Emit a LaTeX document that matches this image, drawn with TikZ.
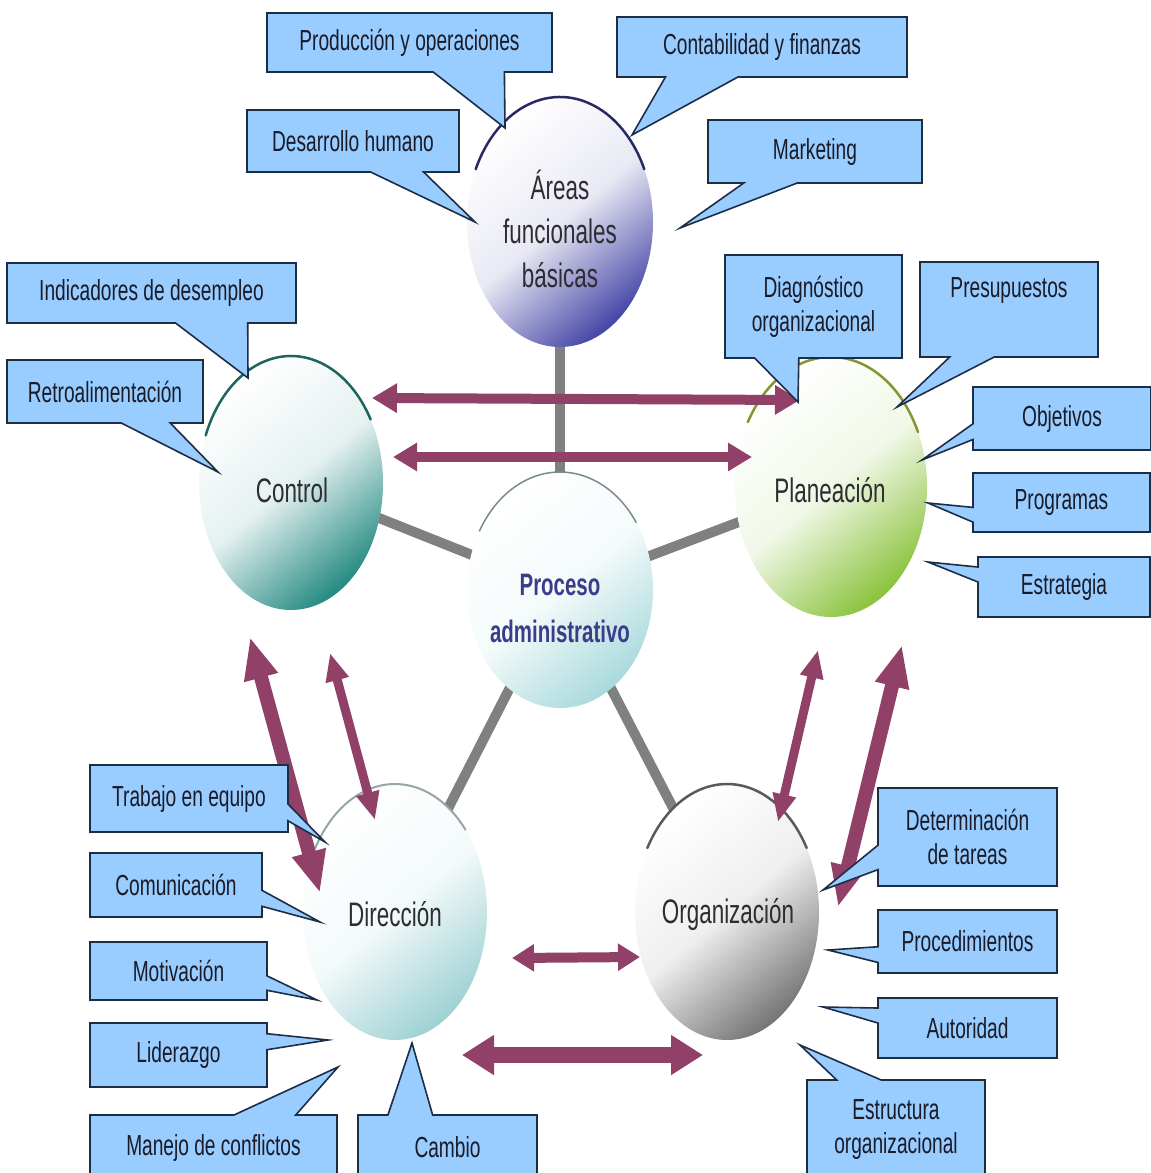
\documentclass[tikz,border=0pt]{standalone}
\usepackage{fontspec}
\setmainfont[FakeStretch=0.66]{Liberation Sans}
\usetikzlibrary{arrows.meta,calc,backgrounds,shapes.geometric}

\definecolor{boxfill}{RGB}{153,204,255}
\definecolor{boxline}{RGB}{30,45,70}
\definecolor{arrowc}{RGB}{145,64,104}
\definecolor{spokec}{RGB}{128,128,128}
\definecolor{txt}{RGB}{25,28,40}
\definecolor{ballt}{RGB}{45,45,50}
\definecolor{ptxt}{RGB}{60,60,140}
% ball fills
\definecolor{areasc}{RGB}{72,72,168}
\definecolor{ctrlc}{RGB}{40,140,132}
\definecolor{procc}{RGB}{170,218,220}
\definecolor{planc}{RGB}{140,196,64}
\definecolor{dirc}{RGB}{160,210,212}
\definecolor{orgc}{RGB}{120,120,120}
% ball rims
\definecolor{areasl}{RGB}{40,40,100}
\definecolor{ctrll}{RGB}{30,100,95}
\definecolor{procl}{RGB}{120,140,140}
\definecolor{planl}{RGB}{130,150,50}
\definecolor{dirl}{RGB}{150,165,165}
\definecolor{orgl}{RGB}{90,90,90}

\pgfdeclarelayer{calloutlayer}
\pgfdeclarelayer{labellayer}
\pgfsetlayers{background,main,calloutlayer,labellayer}

\tikzset{
  ball/.style={ellipse, inner sep=0pt, outer sep=0pt,
    top color=white, bottom color=#1, middle color=#1!12!white, shading angle=40},
  rim/.style={draw=#1, line width=2.5pt, line cap=round},
  balltext/.style={inner sep=0pt, align=center, text=ballt,
    font=\fontsize{34}{44}\selectfont},
  proctext/.style={inner sep=0pt, align=center, text=ptxt,
    font=\fontsize{31}{47}\selectfont\bfseries},
  spoke/.style={draw=spokec, line width=10pt},
  dblarrow/.style n args={3}{draw=arrowc, line width=#1,
    arrows={Triangle[width=#2,length=#3]-Triangle[width=#2,length=#3]}},
  ctext/.style={inner sep=0pt, outer sep=0pt, align=center, text=txt,
    font=\fontsize{29}{34}\selectfont},
  cbox/.style={fill=boxfill, draw=boxline, line width=1.6pt, line join=miter},
}

% callout outlines: box plus a wedge on one side ending at a tip
\newcommand{\wedgeB}[4]{\begin{pgfonlayer}{calloutlayer}
  \draw[cbox] (#1.north west) -- (#1.north east) -- (#1.south east)
    -- ($(#1.south west)!#3!(#1.south east)$) -- (#4)
    -- ($(#1.south west)!#2!(#1.south east)$) -- (#1.south west) -- cycle;
  \end{pgfonlayer}}
\newcommand{\wedgeT}[4]{\begin{pgfonlayer}{calloutlayer}
  \draw[cbox] (#1.north west) -- ($(#1.north west)!#2!(#1.north east)$)
    -- (#4) -- ($(#1.north west)!#3!(#1.north east)$) -- (#1.north east)
    -- (#1.south east) -- (#1.south west) -- cycle;
  \end{pgfonlayer}}
\newcommand{\wedgeL}[4]{\begin{pgfonlayer}{calloutlayer}
  \draw[cbox] (#1.north west) -- (#1.north east) -- (#1.south east)
    -- (#1.south west) -- ($(#1.north west)!#3!(#1.south west)$) -- (#4)
    -- ($(#1.north west)!#2!(#1.south west)$) -- cycle;
  \end{pgfonlayer}}
\newcommand{\wedgeR}[4]{\begin{pgfonlayer}{calloutlayer}
  \draw[cbox] (#1.north west) -- (#1.north east)
    -- ($(#1.north east)!#2!(#1.south east)$) -- (#4)
    -- ($(#1.north east)!#3!(#1.south east)$) -- (#1.south east)
    -- (#1.south west) -- cycle;
  \end{pgfonlayer}}

\begin{document}
\begin{tikzpicture}[x=1pt, y=-1pt]
\useasboundingbox (0,0) rectangle (1151,1173);

% the six balls
\node[ball=areasc, minimum width=186pt, minimum height=250pt] (areas) at (560,222) {};
\node[ball=ctrlc, minimum width=184pt, minimum height=254pt] (ctrl) at (291,483) {};
\node[ball=procc, minimum width=186pt, minimum height=236pt] (proc) at (560,590) {};
\node[ball=planc, minimum width=192pt, minimum height=260pt] (plan) at (831,487) {};
\node[ball=dirc, minimum width=184pt, minimum height=256pt] (dir) at (395,912) {};
\node[ball=orgc, minimum width=184pt, minimum height=256pt] (org) at (727,912) {};

% rims along the top of each ball
\draw[rim=areasl] (areas.center) ++(-155:93 and 125) arc[start angle=-155, end angle=-25, x radius=93, y radius=125];
\draw[rim=ctrll] (ctrl.center) ++(-158:92 and 127) arc[start angle=-158, end angle=-30, x radius=92, y radius=127];
\draw[rim=procl, line width=1.5pt] (proc.center) ++(-150:93 and 118) arc[start angle=-150, end angle=-35, x radius=93, y radius=118];
\draw[rim=planl] (plan.center) ++(-150:96 and 130) arc[start angle=-150, end angle=-25, x radius=96, y radius=130];
\draw[rim=dirl, line width=2pt] (dir.center) ++(-150:92 and 128) arc[start angle=-150, end angle=-40, x radius=92, y radius=128];
\draw[rim=orgl] (org.center) ++(-150:92 and 128) arc[start angle=-150, end angle=-30, x radius=92, y radius=128];

% ball captions
\node[balltext] (areas-t) at (560,229) {Áreas\\funcionales\\básicas};
\node[balltext] (ctrl-t) at (292,490) {Control};
\node[balltext] (plan-t) at (830,490) {Planeación};
\node[balltext] (dir-t) at (395,914) {Dirección};
\node[balltext] (org-t) at (728,914) {Organización};
\node[proctext] (proc-t) at (560,608) {Proceso\\administrativo};

% spokes from the centre ball
\begin{pgfonlayer}{background}
\foreach \n in {areas,ctrl,plan,dir,org}
  \draw[spoke] (proc.center) -- (\n.center);
\end{pgfonlayer}

% two-way arrows between the stages
\draw[dblarrow={10pt}{28pt}{25pt}] ($(ctrl.center)+(81,-85)$) -- ($(plan.center)+(-31,-87)$);
\draw[dblarrow={10pt}{27pt}{24pt}] ($(ctrl.center)+(102,-26)$) -- ($(plan.center)+(-79,-30)$);
\draw[dblarrow={14pt}{32pt}{42pt}] ($(ctrl.center)+(-41,154)$) -- ($(dir.center)+(-75,-19)$);
\draw[dblarrow={9pt}{22pt}{28pt}] ($(ctrl.center)+(39,170)$) -- ($(dir.center)+(-20,-92)$);
\draw[dblarrow={9pt}{22pt}{28pt}] ($(plan.center)+(-13,163)$) -- ($(org.center)+(51,-90)$);
\draw[dblarrow={14pt}{32pt}{42pt}] ($(plan.center)+(71,158)$) -- ($(org.center)+(111,-5)$);
\draw[dblarrow={10pt}{26pt}{22pt}] ($(dir.center)+(117,46)$) -- ($(org.center)+(-87,45)$);
\draw[dblarrow={16pt}{38pt}{32pt}] ($(dir.center)+(67,143)$) -- ($(org.center)+(-24,143)$);

% callout texts
\begin{pgfonlayer}{labellayer}
\node[ctext, minimum width=285pt, minimum height=59pt] (c-prod) at (409.5,42.5) {Producción y operaciones};
\node[ctext, minimum width=290pt, minimum height=60pt] (c-cont) at (762,47) {Contabilidad y finanzas};
\node[ctext, minimum width=212pt, minimum height=62pt] (c-des) at (353,141) {Desarrollo humano};
\node[ctext, minimum width=214pt, minimum height=63pt] (c-mkt) at (815,151.5) {Marketing};
\node[ctext, minimum width=289pt, minimum height=60pt] (c-ind) at (151.5,293) {Indicadores de desempleo};
\node[ctext, minimum width=196pt, minimum height=63pt] (c-ret) at (105,391.5) {Retroalimentación};
\node[ctext, minimum width=177pt, minimum height=103pt] (c-diag) at (813.5,306.5) {Diagnóstico\\organizacional};
\node[ctext, minimum width=178pt, minimum height=95pt] (c-pres) at (1009,309.5) {Presupuestos\\\strut};
\node[ctext, minimum width=178pt, minimum height=63pt] (c-obj) at (1062,418.5) {Objetivos};
\node[ctext, minimum width=177pt, minimum height=59pt] (c-prog) at (1061.5,502.5) {Programas};
\node[ctext, minimum width=172pt, minimum height=60pt] (c-est) at (1064,587) {Estrategia};
\node[ctext, minimum width=198pt, minimum height=67pt] (c-trab) at (189,798.5) {Trabajo en equipo};
\node[ctext, minimum width=172pt, minimum height=64pt] (c-com) at (176,885) {Comunicación};
\node[ctext, minimum width=177pt, minimum height=58pt] (c-mot) at (178.5,971) {Motivación};
\node[ctext, minimum width=177pt, minimum height=64pt] (c-lid) at (178.5,1055) {Liderazgo};
\node[ctext, minimum width=247pt, minimum height=65pt] (c-man) at (213.5,1147.5) {Manejo de conflictos};
\node[ctext, minimum width=179pt, minimum height=65pt] (c-cam) at (447.5,1147.5) {Cambio};
\node[ctext, minimum width=179pt, minimum height=98pt] (c-det) at (967.5,837) {Determinación\\de tareas};
\node[ctext, minimum width=179pt, minimum height=63pt] (c-proc) at (967.5,941.5) {Procedimientos};
\node[ctext, minimum width=179pt, minimum height=60pt] (c-aut) at (967.5,1028) {Autoridad};
\node[ctext, minimum width=178pt, minimum height=100pt] (c-estr) at (896,1130) {Estructura\\organizacional};
\end{pgfonlayer}

% callout shapes pointing at their ball
\wedgeB{c-prod}{0.583}{0.833}{$(areas.center)+(-55,-94)$}
\wedgeB{c-cont}{0.167}{0.417}{$(areas.center)+(72,-87)$}
\wedgeB{c-des}{0.583}{0.833}{$(areas.center)+(-85,0)$}
\wedgeB{c-mkt}{0.167}{0.417}{$(areas.center)+(120,6)$}
\wedgeB{c-ind}{0.583}{0.833}{$(ctrl.center)+(-43,-105)$}
\wedgeB{c-ret}{0.583}{0.833}{$(ctrl.center)+(-73,-11)$}
\wedgeB{c-diag}{0.167}{0.417}{$(plan.center)+(-33,-85)$}
\wedgeB{c-pres}{0.167}{0.417}{$(plan.center)+(66,-80)$}
\wedgeL{c-obj}{0.583}{0.833}{$(plan.center)+(91,-27)$}
\wedgeL{c-prog}{0.583}{0.833}{$(plan.center)+(97,16)$}
\wedgeL{c-est}{0.167}{0.417}{$(plan.center)+(97,75)$}
\wedgeR{c-trab}{0.583}{0.833}{$(dir.center)+(-70,-70)$}
\wedgeR{c-com}{0.583}{0.833}{$(dir.center)+(-75,10)$}
\wedgeR{c-mot}{0.583}{0.833}{$(dir.center)+(-78,88)$}
\wedgeR{c-lid}{0.167}{0.417}{$(dir.center)+(-67,128)$}
\wedgeT{c-man}{0.583}{0.833}{$(dir.center)+(-57,155)$}
\wedgeT{c-cam}{0.167}{0.417}{$(dir.center)+(17,131)$}
\wedgeL{c-det}{0.583}{0.833}{$(org.center)+(96,-22)$}
\wedgeL{c-proc}{0.583}{0.833}{$(org.center)+(101,38)$}
\wedgeL{c-aut}{0.167}{0.417}{$(org.center)+(96,95)$}
\wedgeT{c-estr}{0.167}{0.417}{$(org.center)+(73,133)$}
\end{tikzpicture}
\end{document}
